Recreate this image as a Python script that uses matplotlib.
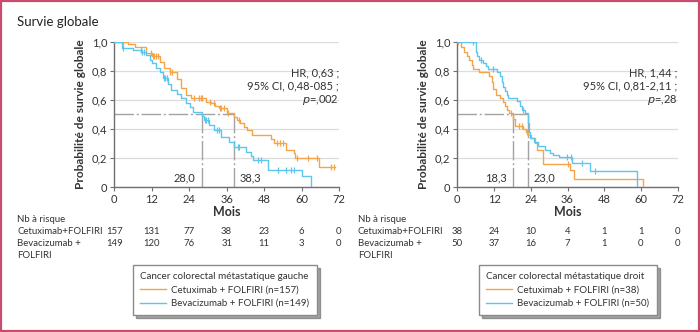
import matplotlib.pyplot as plt
import numpy as np
from matplotlib.lines import Line2D
from matplotlib.patches import Rectangle

plt.rcParams['font.family'] = ['Lato', 'DejaVu Sans']

ORANGE = '#f6a449'
BLUE = '#5cc6ee'
GREY = '#a3a3a3'

months = [0, 12, 24, 36, 48, 60, 72]

# --- left: cancer colorectal métastatique gauche ---
g_cet_t = [0, 4.3, 6.5, 10.3, 12.0, 14.6, 16.0, 18.0, 20.0, 21.5, 23.0, 24.7, 29.3, 31.0, 32.3,
           33.5, 36.0, 38.3, 39.4, 40.4, 41.5, 42.6, 44.2, 50.3, 51.1, 54.9, 57.5, 58.0, 65.6, 70.8]
g_cet_s = [1.0, 0.98, 0.96, 0.92, 0.90, 0.86, 0.82, 0.79, 0.74, 0.68, 0.63, 0.61, 0.585, 0.574, 0.556,
           0.54, 0.512, 0.478, 0.46, 0.437, 0.415, 0.39, 0.358, 0.33, 0.30, 0.255, 0.232, 0.198, 0.14, 0.14]
g_cet_cens = [2.7, 11.8, 12.3, 12.8, 13.3, 14.0, 18.0, 18.4, 25.5, 27.2, 27.7, 28.0, 30.8, 32.0,
              33.8, 34.3, 35.0, 36.5, 40.0, 52.0, 53.0, 54.0, 58.5, 62.0, 65.0, 69.5, 70.5]

g_bev_t = [0, 2.5, 6.0, 8.7, 10.3, 11.4, 12.0, 13.5, 14.6, 15.6, 17.2, 18.3, 20.0, 21.5, 23.0, 24.1,
           25.2, 28.0, 28.6, 30.5, 32.1, 34.3, 36.9, 38.5, 42.2, 43.8, 44.4, 49.1, 60.3, 63.0]
g_bev_s = [1.0, 0.955, 0.94, 0.93, 0.91, 0.875, 0.85, 0.82, 0.79, 0.75, 0.71, 0.67, 0.64, 0.61, 0.575, 0.55,
           0.515, 0.49, 0.46, 0.425, 0.39, 0.345, 0.31, 0.275, 0.24, 0.21, 0.185, 0.115, 0.075, 0.0]
g_bev_cens = [2.7, 8.5, 9.0, 9.5, 15.8, 16.3, 16.8, 29.0, 29.5, 30.0, 33.0, 33.5, 39.5, 40.0,
              46.0, 47.0, 52.5, 55.0, 56.5, 57.5]

g_risk_cet = [157, 131, 77, 38, 23, 6, 0]
g_risk_bev = [149, 120, 76, 31, 11, 3, 0]
g_medians = [28.0, 38.3]
g_stats = 'HR, 0,63 ;\n95% CI, 0,48-085 ;\n$\\it{p}$=,002'

# --- right: cancer colorectal métastatique droit ---
d_cet_t = [0, 1.1, 2.2, 3.1, 3.9, 4.7, 5.2, 7.2, 10.5, 11.2, 11.8, 12.6, 14.0, 14.8, 15.6, 16.1,
           17.0, 18.3, 19.0, 21.6, 22.5, 23.2, 24.0, 25.3, 26.0, 27.9, 36.9, 38.1, 60.6]
d_cet_s = [1.0, 0.96, 0.93, 0.90, 0.87, 0.84, 0.81, 0.79, 0.76, 0.72, 0.675, 0.63, 0.61, 0.585, 0.56,
           0.53, 0.51, 0.47, 0.42, 0.40, 0.38, 0.36, 0.335, 0.30, 0.255, 0.16, 0.118, 0.055, 0.0]
d_cet_cens = [0.3, 17.5, 20.3, 21.0, 22.9, 36.3]

d_bev_t = [0, 6.0, 6.5, 7.2, 8.5, 9.4, 10.1, 13.1, 14.0, 14.5, 15.0, 15.6, 16.1, 16.6, 19.4, 20.5,
           21.0, 22.1, 23.0, 23.3, 23.8, 25.0, 26.5, 28.7, 30.3, 31.4, 33.3, 37.4, 43.4, 58.6]
d_bev_s = [1.0, 0.93, 0.90, 0.87, 0.85, 0.83, 0.81, 0.79, 0.76, 0.72, 0.69, 0.66, 0.63, 0.61, 0.59, 0.56,
           0.53, 0.51, 0.44, 0.38, 0.335, 0.31, 0.28, 0.255, 0.237, 0.22, 0.205, 0.164, 0.107, 0.0]
d_bev_cens = [5.2, 7.8, 11.8, 21.3, 35.7, 37.1, 40.6, 45.0]

d_risk_cet = [38, 24, 10, 4, 1, 1, 0]
d_risk_bev = [50, 37, 16, 7, 1, 0, 0]
d_medians = [18.3, 23.0]
d_stats = 'HR, 1,44 ;\n95% CI, 0,81-2,11 ;\n$\\it{p}$=,28'


def step_at(t, s, x):
    idx = np.searchsorted(t, x, side='right') - 1
    return np.asarray(s)[idx]


def km(ax, t, s, cens, color):
    ax.step(t, s, where='post', color=color, lw=1.0, zorder=3)
    ax.plot(cens, step_at(t, s, cens), ls='none', marker='|', ms=5, mew=0.9,
            color=color, zorder=3)


def panel(ax, cet, bev, medians, stats, label_sides):
    km(ax, *cet, ORANGE)
    km(ax, *bev, BLUE)
    dash = (0, (14, 2, 1.5, 2))
    ax.plot([0, max(medians)], [0.5, 0.5], color=GREY, lw=1.0, ls=dash, zorder=2)
    for m, side in zip(medians, label_sides):
        ax.plot([m, m], [0, 0.5], color=GREY, lw=1.0, ls=dash, zorder=2)
        lab = f'{m:.1f}'.replace('.', ',')
        off = -2.0 if side == 'left' else 2.0
        ax.text(m + off, 0.06, lab, ha='right' if side == 'left' else 'left',
                va='center', fontsize=8, color='#333333')
    ax.text(1.0, 0.82, stats, transform=ax.transAxes, ha='right', va='top',
            fontsize=8, color='#333333', linespacing=1.2)
    ax.set_xlim(0, 72)
    ax.set_ylim(0, 1.0)
    ax.set_xticks(months)
    ax.set_yticks([0, 0.2, 0.4, 0.6, 0.8, 1.0])
    ax.set_yticklabels(['0', '0,2', '0,4', '0,6', '0,8', '1,0'])
    ax.grid(axis='y', color='#dcdcdc', lw=0.9)
    ax.set_axisbelow(True)
    for sp in ['top', 'right']:
        ax.spines[sp].set_visible(False)
    for sp in ['left', 'bottom']:
        ax.spines[sp].set_color('#707070')
        ax.spines[sp].set_linewidth(1.0)
    ax.tick_params(length=3, width=0.8, color='#707070', labelsize=8,
                   labelcolor='#333333', pad=2)
    ax.set_xlabel('Mois', fontsize=9, fontweight='bold', labelpad=1, color='#333333')
    ax.set_ylabel('Probabilité de survie globale', fontsize=8.6, fontweight='bold',
                  labelpad=4, color='#333333')


fig = plt.figure(figsize=(7.0, 3.32), dpi=100)
axL = fig.add_axes([114.3 / 700, 1 - 187 / 332, 224.7 / 700, 145.5 / 332])
axR = fig.add_axes([457.3 / 700, 1 - 187 / 332, 220.4 / 700, 145.5 / 332])

panel(axL, (g_cet_t, g_cet_s, g_cet_cens), (g_bev_t, g_bev_s, g_bev_cens), g_medians,
      g_stats, ['left', 'right'])
panel(axR, (d_cet_t, d_cet_s, d_cet_cens), (d_bev_t, d_bev_s, d_bev_cens), d_medians,
      d_stats, ['left', 'right'])

fig.text(17 / 700, 1 - 22 / 332, 'Survie globale', fontsize=9.5, va='center', color='#222222')

# number at risk tables
for ax, x0, rc, rb in [(axL, 17, g_risk_cet, g_risk_bev), (axR, 358, d_risk_cet, d_risk_bev)]:
    kw = dict(fontsize=6.9, va='center', color='#333333')
    fig.text(x0 / 700, 1 - 219 / 332, 'Nb à risque', **kw)
    fig.text(x0 / 700, 1 - 231 / 332, 'Cetuximab+FOLFIRI', **kw)
    fig.text(x0 / 700, 1 - 243 / 332, 'Bevacizumab +', **kw)
    fig.text(x0 / 700, 1 - 255 / 332, 'FOLFIRI', **kw)
    for m, a, b in zip(months, rc, rb):
        xf = fig.transFigure.inverted().transform(ax.transData.transform((m, 0)))[0]
        fig.text(xf, 1 - 231 / 332, str(a), ha='center', **kw)
        fig.text(xf, 1 - 243 / 332, str(b), ha='center', **kw)

# legends
for x0, title, n1, n2 in [(133, 'Cancer colorectal métastatique gauche', 157, 149),
                          (479, 'Cancer colorectal métastatique droit', 38, 50)]:
    handles = [Line2D([], [], color=ORANGE, lw=1.0), Line2D([], [], color=BLUE, lw=1.0)]
    labels = [f'Cetuximab + FOLFIRI (n={n1})', f'Bevacizumab + FOLFIRI (n={n2})']
    leg = fig.legend(handles, labels, title=title, loc='upper left',
                     bbox_to_anchor=(x0 / 700, 1 - 265 / 332), fontsize=7.0,
                     title_fontsize=7.1, frameon=True, fancybox=False, shadow=True,
                     edgecolor='#8a8a8a', handlelength=2.6, handletextpad=0.6,
                     borderpad=0.75, labelspacing=0.45, alignment='left',
                     borderaxespad=0)
    leg.get_frame().set_linewidth(1.0)
    leg.get_title().set_color('#333333')
    for t in leg.get_texts():
        t.set_color('#333333')

fig.patches.append(Rectangle((0.001, 0.002), 0.997, 0.995, transform=fig.transFigure,
                             fill=False, edgecolor='#c84c6e', lw=1.6))

fig.savefig('out.png', dpi=100)
